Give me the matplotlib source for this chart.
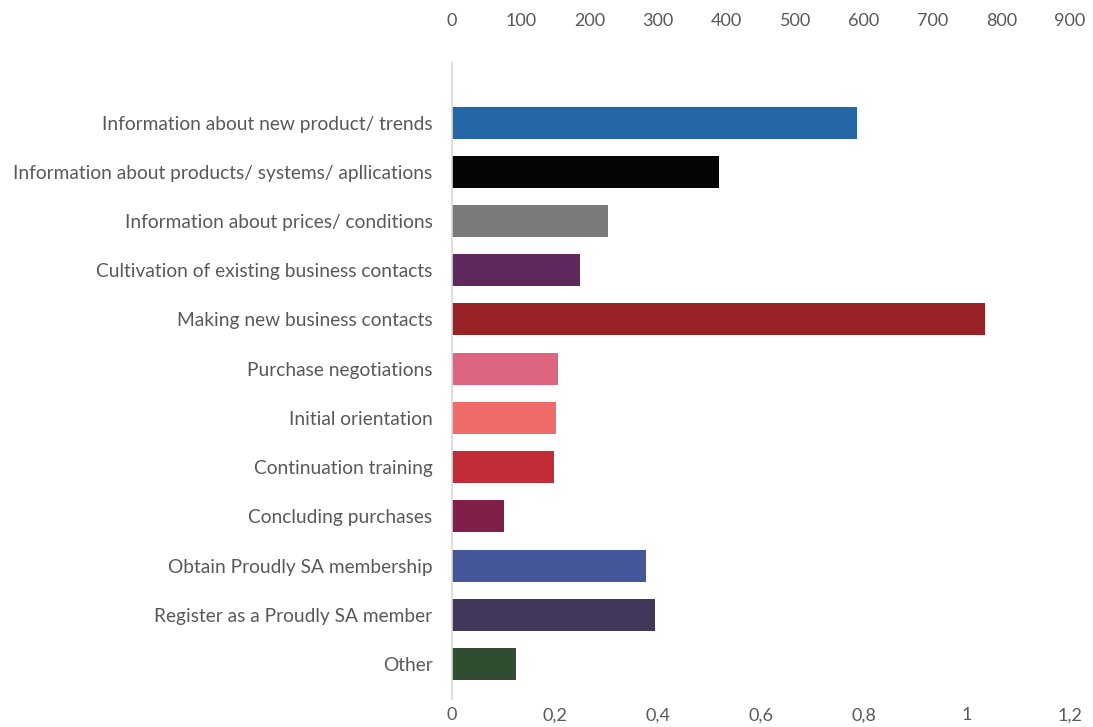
import matplotlib.pyplot as plt
import numpy as np

# Reasons for visiting (number of responses)
categories = [
    'Information about new product/ trends',
    'Information about products/ systems/ apllications',
    'Information about prices/ conditions',
    'Cultivation of existing business contacts',
    'Making new business contacts',
    'Purchase negotiations',
    'Initial orientation',
    'Continuation training',
    'Concluding purchases',
    'Obtain Proudly SA membership',
    'Register as a Proudly SA member',
    'Other',
]
responses = [590, 389, 227, 186, 776, 155, 152, 149, 76, 282, 295, 93]
colors = ['#2566a7', '#050505', '#7a7a7b', '#5f2960', '#992227', '#de6580',
          '#ee6b69', '#c12c37', '#7f1f4a', '#46569b', '#41375a', '#2f4e2f']

top_ticks = np.arange(0, 1000, 100)
bottom_ticks = [0, 0.2, 0.4, 0.6, 0.8, 1.0, 1.2]
bottom_labels = ['0', '0,2', '0,4', '0,6', '0,8', '1', '1,2']

plt.rcParams['font.family'] = 'Lato'
text_color = '#595959'

fig = plt.figure(figsize=(10.93, 7.27), dpi=100)
ax = fig.add_axes([0.4135, 0.0385, 0.5655, 0.8742])

y = np.arange(len(categories))
ax.barh(y, responses, height=0.65, color=colors)

ax.set_xlim(0, 900)
ax.set_ylim(11.71, -1.2)
ax.set_yticks(y)
ax.set_yticklabels(categories, fontsize=13.8)
ax.xaxis.tick_top()
ax.set_xticks(top_ticks)
ax.tick_params(axis='both', length=0, colors=text_color)
ax.tick_params(axis='x', pad=25, labelsize=13)
ax.tick_params(axis='y', pad=14)

for side in ['top', 'right', 'bottom']:
    ax.spines[side].set_visible(False)
ax.spines['left'].set_color('#d9d9d9')
ax.spines['left'].set_linewidth(1.2)

# secondary scale along the bottom
sec = ax.secondary_xaxis('bottom', functions=(lambda v: v / 750, lambda v: v * 750))
sec.set_xticks(bottom_ticks)
sec.set_xticklabels(bottom_labels)
sec.tick_params(length=0, labelsize=13, colors=text_color, pad=6)
sec.spines['bottom'].set_visible(False)

fig.savefig('out.png', dpi=100)
